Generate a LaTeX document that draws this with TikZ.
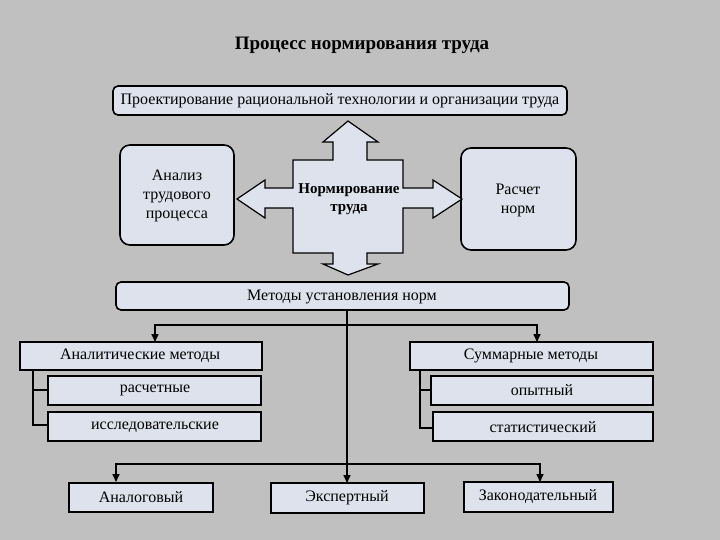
\documentclass[tikz,border=0pt]{standalone}
\usepackage{fontspec}
\setmainfont{Liberation Serif}
\usetikzlibrary{arrows.meta}
\definecolor{bg}{RGB}{192,192,192}
\definecolor{boxfill}{RGB}{222,226,236}
\begin{document}
\begin{tikzpicture}[x=1pt,y=-1pt,
  box/.style={draw=black,line width=1.6pt,fill=boxfill},
  rbox/.style={box,rounded corners=10pt},
  lbl/.style={font=\fontsize{16}{19}\selectfont,align=center},
  conn/.style={line width=1.6pt},
  arr/.style={conn,-{Triangle[length=8pt,width=7pt]}}]
\fill[bg] (0,0) rectangle (720,540);
\useasboundingbox (0,0) rectangle (720,540);
\node[font=\bfseries\fontsize{19}{22}\selectfont] (title) at (362,45) {Процесс нормирования труда};
% upper part
\draw[box,rounded corners=5pt] (113,86) rectangle (567,115);
\node[lbl] (proj) at (340,101) {Проектирование рациональной технологии и организации труда};
\draw[rbox] (120,145) rectangle (234,245);
\node[lbl] (anal) at (177,196) {Анализ\\трудового\\процесса};
\draw[rbox] (461,148) rectangle (576,250);
\node[lbl] (rasch) at (518,200) {Расчет\\норм};
\draw[box,line width=1.2pt] (348,121) -- (378,142) -- (367,142) -- (367,160) -- (403,160) -- (403,188)
  -- (433,188) -- (433,180) -- (462,199) -- (433,218) -- (433,208) -- (403,208)
  -- (403,253) -- (367,253) -- (367,264) -- (378,264) -- (348,275) -- (323,264)
  -- (333,264) -- (333,253) -- (293,253) -- (293,208) -- (265,208) -- (265,218)
  -- (237,199) -- (265,180) -- (265,188) -- (293,188) -- (293,160) -- (333,160)
  -- (333,142) -- (323,142) -- cycle;
\node[lbl,font=\bfseries\fontsize{15}{18}\selectfont] (norm) at (349,199) {Нормирование\\труда};
\draw[box,rounded corners=5pt] (116,282) rectangle (569,310);
\node[lbl] (met) at (342,297) {Методы установления норм};
% method groups
\draw[box] (20,342) rectangle (262,370);
\node[lbl] (am) at (140,356) {Аналитические методы};
\draw[box] (48,376) rectangle (261,405);
\node[lbl] (ras) at (155,390) {расчетные};
\draw[box] (48,412) rectangle (261,441);
\node[lbl] (iss) at (155,427) {исследовательские};
\draw[box] (410,342) rectangle (653,370);
\node[lbl] (sm) at (531,356) {Суммарные методы};
\draw[box] (431,376) rectangle (653,405);
\node[lbl] (op) at (542,390) {опытный};
\draw[box] (433,412) rectangle (653,441);
\node[lbl] (st) at (543,427) {статистический};
\draw[box] (69,483) rectangle (213,512);
\node[lbl] (ang) at (141,497) {Аналоговый};
\draw[box] (271,483) rectangle (424,513);
\node[lbl] (eks) at (347,498) {Экспертный};
\draw[box] (464,482) rectangle (613,512);
\node[lbl] (zak) at (538,497) {Законодательный};
% connectors
\coordinate (top) at (347,310);
\coordinate (jt) at (347,325);
\coordinate (jb) at (347,464);
\draw[conn] (top) -- (jt);
\draw[arr] (jt) -| (155,342);
\draw[arr] (jt) -| (537,342);
\draw[arr] (jt) -- (347,483);
\draw[arr] (jb) -| (116,482);
\draw[arr] (jb) -| (540,482);
\draw[conn] (33,370) |- (48,425);
\draw[conn] (33,390) -- (48,390);
\draw[conn] (420,370) |- (433,428);
\draw[conn] (420,390) -- (431,390);
\end{tikzpicture}
\end{document}
